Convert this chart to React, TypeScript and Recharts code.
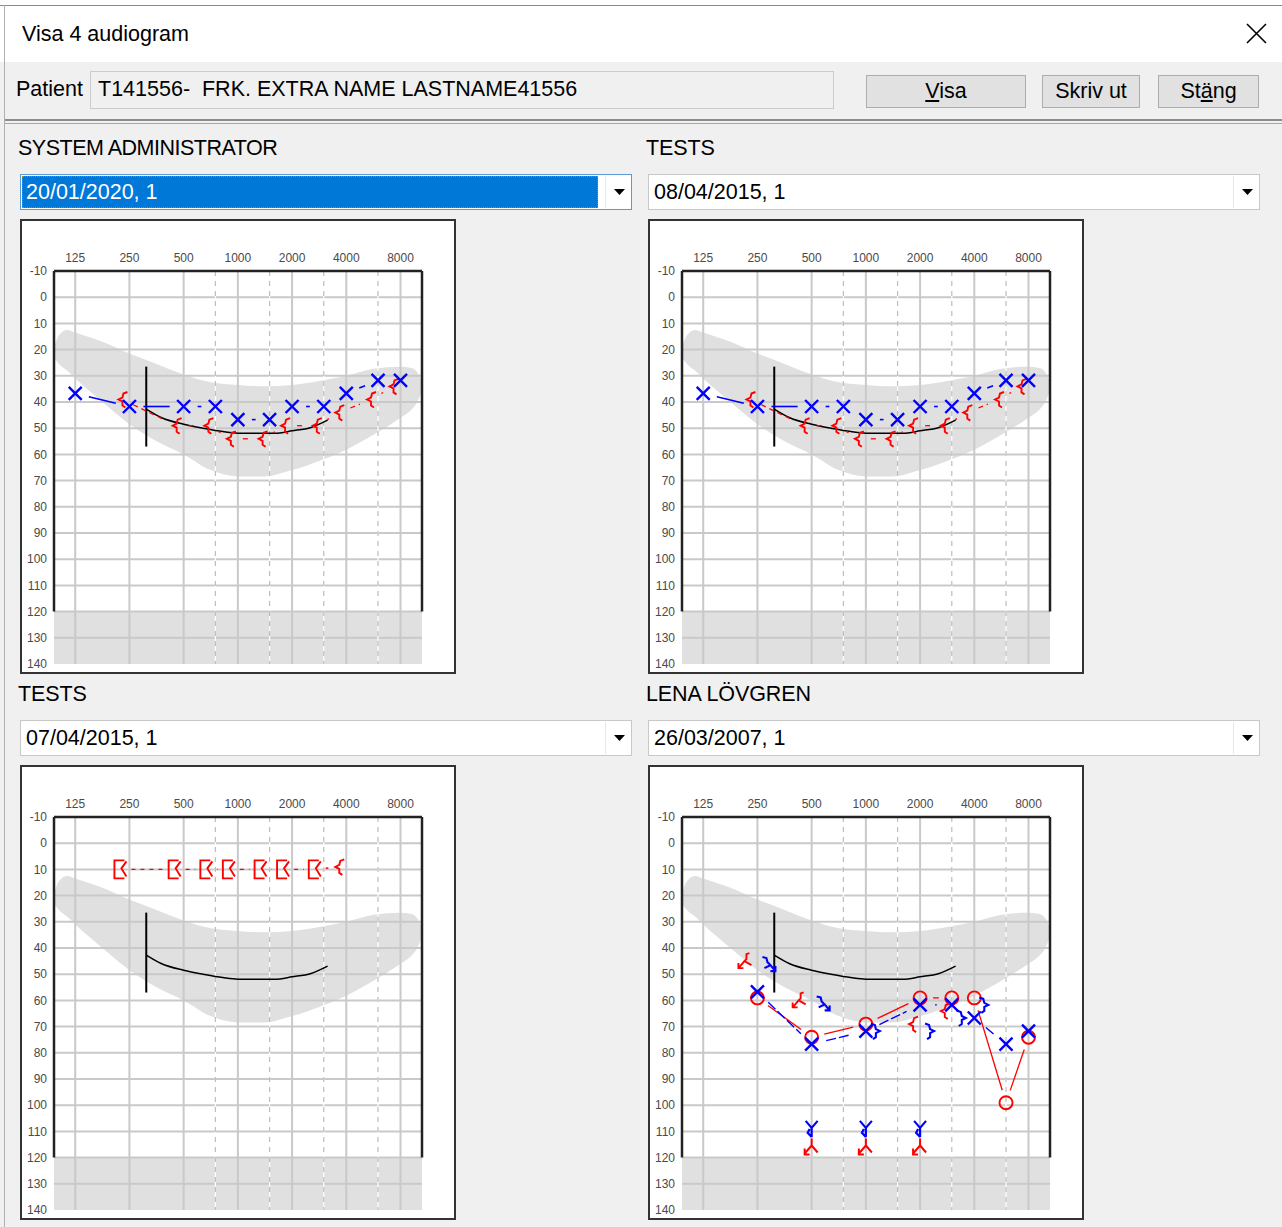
import React from 'react';
import { ComposedChart, Line, Area, XAxis, YAxis, ReferenceLine, ReferenceArea } from 'recharts';

const FONT = '"Liberation Sans", Arial, sans-serif';

// ---------- axes ----------
const FREQ_TICKS = [125, 250, 500, 1000, 2000, 4000, 8000];
const HALF_OCTAVE_FREQS = [750, 1500, 3000, 6000];
const DB_TICKS = [-10, 0, 10, 20, 30, 40, 50, 60, 70, 80, 90, 100, 110, 120, 130, 140];
const DB_GRID = [0, 10, 20, 30, 40, 50, 60, 70, 80, 90, 100, 110, 120, 130];
const FREQ_MIN = 95.3;
const FREQ_MAX = 10530;
const DB_MIN = -10;
const DB_MAX = 140;
const DB_FRAME_END = 120;

// ---------- speech banana ----------
const BANANA_FREQ = [95.3, 101.5, 112.6, 125, 177, 250, 354, 500, 707, 1000, 1414, 2000, 2828, 4000, 5657, 8000, 9190, 10000, 10500];
const BANANA_TOP = [19, 14.5, 12.5, 13.5, 17, 21.5, 25.5, 29.5, 32.5, 33.5, 34, 33.5, 32, 30, 27.3, 26.5, 27, 29, 32];
const BANANA_BOTTOM = [23, 25.5, 28, 31, 40, 48.5, 55, 60, 66, 68.4, 68.4, 66, 62.5, 58.2, 52.5, 46, 43, 39.5, 36];

// ---------- reference curve ----------
const CURVE_FREQ = [310, 375, 500, 650, 825, 1000, 1600, 2000, 2550, 3150];
const CURVE_DB = [42.7, 45.9, 48.5, 50.1, 51.3, 51.9, 51.9, 51, 49.7, 46.9];
const BAR_FREQ = [310, 310];
const BAR_DB = [26.5, 57];

// ---------- panel 1 : SYSTEM ADMINISTRATOR 20/01/2020 ----------
const P1_LEFT_AIR_FREQ = [125, 250, 500, 750, 1000, 1500, 2000, 3000, 4000, 6000, 8000];
const P1_LEFT_AIR_DB = [35, 40, 40, 40, 45, 45, 40, 40, 35, 30, 30];
const P1_RIGHT_BONE_FREQ = [250, 500, 750, 1000, 1500, 2000, 3000, 4000, 6000, 8000];
const P1_RIGHT_BONE_DB = [40, 50, 50, 55, 55, 50, 50, 45, 40, 35];

// ---------- panel 2 : TESTS 08/04/2015 ----------
const P2_LEFT_AIR_FREQ = [125, 250, 500, 750, 1000, 1500, 2000, 3000, 4000, 6000, 8000];
const P2_LEFT_AIR_DB = [35, 40, 40, 40, 45, 45, 40, 40, 35, 30, 30];
const P2_RIGHT_BONE_FREQ = [250, 500, 750, 1000, 1500, 2000, 3000, 4000, 6000, 8000];
const P2_RIGHT_BONE_DB = [40, 50, 50, 55, 55, 50, 50, 45, 40, 35];

// ---------- panel 3 : TESTS 07/04/2015 ----------
const P3_RIGHT_BONE_FREQ = [250, 500, 750, 1000, 1500, 2000, 3000, 4000];
const P3_RIGHT_BONE_DB = [10, 10, 10, 10, 10, 10, 10, 10];
const P3_RIGHT_BONE_MASKED = [true, true, true, true, true, true, true, false];

// ---------- panel 4 : LENA LÖVGREN 26/03/2007 ----------
const P4_RIGHT_AIR_FREQ = [250, 500, 1000, 2000, 3000, 4000, 6000, 8000];
const P4_RIGHT_AIR_DB = [60, 75, 70, 60, 60, 60, 100, 75];
const P4_LEFT_AIR_FREQ = [250, 500, 1000, 2000, 3000, 4000, 6000, 8000];
const P4_LEFT_AIR_DB = [55, 75, 70, 60, 60, 65, 75, 70];
const P4_RIGHT_BONE_FREQ = [2000, 3000];
const P4_RIGHT_BONE_DB = [70, 65];
const P4_RIGHT_BONE_NR_FREQ = [250, 500];
const P4_RIGHT_BONE_NR_DB = [45, 60];
const P4_LEFT_BONE_FREQ = [1000, 2000, 3000, 4000];
const P4_LEFT_BONE_DB = [70, 70, 65, 60];
const P4_LEFT_BONE_NR_FREQ = [250, 500];
const P4_LEFT_BONE_NR_DB = [45, 60];
const P4_LEFT_NR_FREQ = [500, 1000, 2000];
const P4_LEFT_NR_DB = [110, 110, 110];
const P4_RIGHT_NR_FREQ = [500, 1000, 2000];
const P4_RIGHT_NR_DB = [115, 115, 115];

const RED = '#ff0000';
const BLUE = '#0000ff';

const oct = (f: number) => Math.log2(f / 125);
const X_MIN = oct(FREQ_MIN);
const X_MAX = oct(FREQ_MAX);

type Kind = 'X' | 'O' | '<' | '>' | '<nr' | '>nr' | '[<' | 'Ynr' | 'Anr';

// glyph anchor offsets (like text glyph placement in the original program)
const OFFSETS: Record<Kind, [number, number]> = {
  X: [0, 4.5],
  O: [0, -2.5],
  '<': [-7, -2.5],
  '>': [10, 4.5],
  '<nr': [-12, 1],
  '>nr': [11, 4],
  '[<': [-9, 0],
  Ynr: [0, -2.5],
  Anr: [0, 3],
};

function Glyph({ kind, x, y, color }: { kind: Kind; x: number; y: number; color: string }) {
  const common = { fill: 'none', stroke: color, strokeLinejoin: 'miter' as const };
  switch (kind) {
    case 'X':
      return <path d={`M${x - 6.5},${y - 6.5}L${x + 6.5},${y + 6.5}M${x + 6.5},${y - 6.5}L${x - 6.5},${y + 6.5}`} {...common} strokeWidth={2.4} />;
    case 'O':
      return <circle cx={x} cy={y} r={6.5} {...common} strokeWidth={1.9} />;
    case '<':
      return <path d={`M${x + 5},${y - 7.5}L${x + 1},${y - 6}L${x},${y - 2}L${x - 4},${y}L${x},${y + 2}L${x},${y + 6}L${x + 3},${y + 8}`} {...common} strokeWidth={1.9} />;
    case '>':
      return <path d={`M${x - 5},${y - 7.5}L${x - 1},${y - 6}L${x},${y - 2}L${x + 4},${y}L${x},${y + 2}L${x},${y + 6}L${x - 3},${y + 8}`} {...common} strokeWidth={2.1} />;
    case '<nr':
      return (
        <path
          d={`M${x + 4},${y - 9}L${x + 1},${y - 8}L${x + 1},${y - 3}L${x - 1},${y - 1}L${x + 6},${y + 3}M${x - 1},${y - 1}L${x - 7},${y + 6}M${x - 7},${y + 1}L${x - 7},${y + 6}L${x - 2},${y + 6}`}
          {...common}
          strokeWidth={1.9}
        />
      );
    case '>nr':
      return (
        <path
          d={`M${x - 6},${y - 8}L${x - 2},${y - 7}L${x - 1},${y - 3}L${x + 2},${y}L${x - 4},${y + 3}M${x + 2},${y}L${x + 7},${y + 6}M${x + 7},${y + 1}L${x + 7},${y + 6}L${x + 2},${y + 6}`}
          {...common}
          strokeWidth={2.1}
        />
      );
    case '[<':
      return (
        <path
          d={`M${x + 4},${y - 9}L${x - 6},${y - 9}L${x - 6},${y + 9}L${x + 4},${y + 9}M${x + 6},${y - 8}L${x + 1},${y - 1}L${x + 6},${y + 7}`}
          {...common}
          strokeWidth={1.9}
        />
      );
    case 'Ynr':
      return (
        <path
          d={`M${x - 6},${y - 8}L${x},${y - 1}L${x + 6},${y - 8}M${x},${y - 1}L${x},${y + 8}M${x - 2},${y}L${x - 4},${y + 4}L${x},${y + 8}`}
          {...common}
          strokeWidth={2.2}
        />
      );
    case 'Anr':
      return (
        <path
          d={`M${x},${y - 9}L${x},${y - 2}M${x},${y - 2}L${x - 7},${y + 6}M${x},${y - 2}L${x + 6},${y + 5}M${x - 7},${y + 1}L${x - 7},${y + 7}L${x - 2},${y + 7}`}
          {...common}
          strokeWidth={2}
        />
      );
    default:
      return null;
  }
}

interface Series {
  freqs: number[];
  dbs: number[];
  kinds: Kind[];
  color: string;
  line?: { gap: number; width: number; dash?: string };
}

function makeDot(s: Series) {
  const cache: { x: number; y: number }[] = [];
  return (p: any) => {
    const { cx, cy, index } = p;
    cache[index] = { x: cx, y: cy };
    const kind = s.kinds[index];
    const [dx, dy] = OFFSETS[kind];
    const x = cx + dx;
    const y = cy + dy;
    let seg: React.ReactNode = null;
    if (s.line && index > 0) {
      const prev = (p.points && p.points[index - 1]) || cache[index - 1];
      if (prev) {
        const [pdx, pdy] = OFFSETS[s.kinds[index - 1]];
        const x0 = prev.x + pdx;
        const y0 = prev.y + pdy;
        const len = Math.hypot(x - x0, y - y0);
        const g = s.line.gap;
        if (len > 2 * g) {
          const ux = (x - x0) / len;
          const uy = (y - y0) / len;
          seg = (
            <line
              x1={x0 + ux * g}
              y1={y0 + uy * g}
              x2={x - ux * g}
              y2={y - uy * g}
              stroke={s.color}
              strokeWidth={s.line.width}
              strokeDasharray={s.line.dash}
            />
          );
        }
      }
    }
    return (
      <g key={`dot-${index}`}>
        {seg}
        <Glyph kind={kind} x={x} y={y} color={s.color} />
      </g>
    );
  };
}

const same = (n: number, k: Kind): Kind[] => Array.from({ length: n }, () => k);

const PANEL1: Series[] = [
  { freqs: P1_RIGHT_BONE_FREQ, dbs: P1_RIGHT_BONE_DB, kinds: same(P1_RIGHT_BONE_FREQ.length, '<'), color: RED, line: { gap: 12, width: 1.3, dash: '5 4' } },
  { freqs: P1_LEFT_AIR_FREQ, dbs: P1_LEFT_AIR_DB, kinds: same(P1_LEFT_AIR_FREQ.length, 'X'), color: BLUE, line: { gap: 14, width: 1.6 } },
];
const PANEL2: Series[] = [
  { freqs: P2_RIGHT_BONE_FREQ, dbs: P2_RIGHT_BONE_DB, kinds: same(P2_RIGHT_BONE_FREQ.length, '<'), color: RED, line: { gap: 12, width: 1.3, dash: '5 4' } },
  { freqs: P2_LEFT_AIR_FREQ, dbs: P2_LEFT_AIR_DB, kinds: same(P2_LEFT_AIR_FREQ.length, 'X'), color: BLUE, line: { gap: 14, width: 1.6 } },
];
const PANEL3: Series[] = [
  {
    freqs: P3_RIGHT_BONE_FREQ,
    dbs: P3_RIGHT_BONE_DB,
    kinds: P3_RIGHT_BONE_MASKED.map((m) => (m ? '[<' : '<') as Kind),
    color: RED,
    line: { gap: 11, width: 1.4, dash: '4 5' },
  },
];
const PANEL4: Series[] = [
  { freqs: P4_RIGHT_AIR_FREQ, dbs: P4_RIGHT_AIR_DB, kinds: same(P4_RIGHT_AIR_FREQ.length, 'O'), color: RED, line: { gap: 13, width: 1.3 } },
  { freqs: P4_LEFT_AIR_FREQ, dbs: P4_LEFT_AIR_DB, kinds: same(P4_LEFT_AIR_FREQ.length, 'X'), color: BLUE, line: { gap: 15, width: 1.4, dash: '10 3' } },
  { freqs: P4_RIGHT_BONE_NR_FREQ, dbs: P4_RIGHT_BONE_NR_DB, kinds: same(2, '<nr'), color: RED },
  { freqs: P4_RIGHT_BONE_FREQ, dbs: P4_RIGHT_BONE_DB, kinds: same(2, '<'), color: RED },
  { freqs: P4_LEFT_BONE_NR_FREQ, dbs: P4_LEFT_BONE_NR_DB, kinds: same(2, '>nr'), color: BLUE },
  { freqs: P4_LEFT_BONE_FREQ, dbs: P4_LEFT_BONE_DB, kinds: same(P4_LEFT_BONE_FREQ.length, '>'), color: BLUE },
  { freqs: P4_LEFT_NR_FREQ, dbs: P4_LEFT_NR_DB, kinds: same(3, 'Ynr'), color: BLUE },
  { freqs: P4_RIGHT_NR_FREQ, dbs: P4_RIGHT_NR_DB, kinds: same(3, 'Anr'), color: RED },
];

const bananaData = BANANA_FREQ.map((f, i) => ({ x: oct(f), band: [BANANA_TOP[i], BANANA_BOTTOM[i]] }));
const curveData = CURVE_FREQ.map((f, i) => ({ x: oct(f), y: CURVE_DB[i] }));
const barData = BAR_FREQ.map((f, i) => ({ x: oct(f), y: BAR_DB[i] }));

const tickStyle = { fontSize: 12, fill: '#4a4a4a', fontFamily: FONT };

function Audiogram({ series }: { series: Series[] }) {
  return (
    <ComposedChart width={436} height={455} margin={{ top: 32, right: 4, bottom: 10, left: 4 }} style={{ fontFamily: FONT }}>
      <XAxis
        type="number"
        dataKey="x"
        orientation="top"
        domain={[X_MIN, X_MAX]}
        ticks={FREQ_TICKS.map(oct)}
        interval={0}
        tickFormatter={(v: number) => String(Math.round(125 * Math.pow(2, v)))}
        axisLine={false}
        tickLine={false}
        tickSize={0}
        tickMargin={9}
        height={20}
        tick={tickStyle}
      />
      <YAxis type="number" domain={[DB_MIN, DB_MAX]} reversed ticks={DB_TICKS} interval={0} axisLine={false} tickLine={false} tickSize={0} tickMargin={7} width={30} tick={tickStyle} />
      <YAxis yAxisId="r" orientation="right" type="number" domain={[DB_MIN, DB_MAX]} reversed ticks={DB_TICKS} interval={0} axisLine={false} tickLine={false} tickSize={0} tickMargin={5} width={30} tick={{ ...tickStyle, textAnchor: 'start' }} />

      <ReferenceArea x1={X_MIN} x2={X_MAX} y1={DB_FRAME_END} y2={DB_MAX} fill="#e0e0e0" fillOpacity={1} stroke="none" zIndex={100} />
      <Area data={bananaData} dataKey="band" type="monotone" stroke="none" fill="#e0e0e0" fillOpacity={1} isAnimationActive={false} activeDot={false} legendType="none" zIndex={110} />

      {DB_GRID.map((d) => (
        <ReferenceLine key={`h${d}`} y={d} stroke="#c9c9c9" strokeWidth={2} zIndex={120} />
      ))}
      {FREQ_TICKS.map((f) => (
        <ReferenceLine key={`v${f}`} x={oct(f)} stroke="#c9c9c9" strokeWidth={2} zIndex={120} />
      ))}
      {HALF_OCTAVE_FREQS.map((f) => (
        <ReferenceLine key={`w${f}`} x={oct(f)} stroke="#ffffff" strokeWidth={1.2} zIndex={125} />
      ))}
      {HALF_OCTAVE_FREQS.map((f) => (
        <ReferenceLine key={`d${f}`} x={oct(f)} stroke="#bdbdbd" strokeWidth={1.2} strokeDasharray="5 5" zIndex={126} />
      ))}

      <ReferenceLine segment={[{ x: X_MIN, y: DB_MIN }, { x: X_MAX, y: DB_MIN }]} stroke="#222" strokeWidth={2.5} zIndex={140} />
      <ReferenceLine segment={[{ x: X_MIN, y: DB_MIN }, { x: X_MIN, y: DB_FRAME_END }]} stroke="#222" strokeWidth={2.5} zIndex={140} />
      <ReferenceLine segment={[{ x: X_MAX, y: DB_MIN }, { x: X_MAX, y: DB_FRAME_END }]} stroke="#222" strokeWidth={2.5} zIndex={140} />

      <Line data={barData} dataKey="y" type="linear" stroke="#000" strokeWidth={2} dot={false} activeDot={false} isAnimationActive={false} legendType="none" zIndex={150} />
      <Line data={curveData} dataKey="y" type="monotone" stroke="#000" strokeWidth={1.5} dot={false} activeDot={false} isAnimationActive={false} legendType="none" zIndex={150} />

      {series.map((s, i) => (
        <Line
          key={`s${i}`}
          data={s.freqs.map((f, j) => ({ x: oct(f), y: s.dbs[j] }))}
          dataKey="y"
          type="linear"
          stroke="none"
          strokeWidth={0}
          dot={makeDot(s)}
          activeDot={false}
          isAnimationActive={false}
          legendType="none"
          zIndex={160 + i}
        />
      ))}
    </ComposedChart>
  );
}

const UI_SIZE = 21.5;

function Txt({ x, y, children, size = UI_SIZE, color = '#000', spacing = 0 }: any) {
  return (
    <div
      style={{
        position: 'absolute',
        left: x,
        top: y - 12,
        lineHeight: '24px',
        fontSize: size,
        color,
        whiteSpace: 'pre',
        letterSpacing: spacing,
        fontFamily: FONT,
      }}
    >
      {children}
    </div>
  );
}

function Button({ x, w, children }: any) {
  return (
    <div
      style={{
        position: 'absolute',
        left: x,
        top: 75,
        width: w,
        height: 33,
        boxSizing: 'border-box',
        border: '1px solid #adadad',
        background: '#e1e1e1',
        fontFamily: FONT,
        fontSize: UI_SIZE,
        lineHeight: '31px',
        textAlign: 'center',
        color: '#000',
        whiteSpace: 'pre',
      }}
    >
      {children}
    </div>
  );
}

function Dropdown({ x, y, w, text, focused }: any) {
  return (
    <div
      style={{
        position: 'absolute',
        left: x,
        top: y,
        width: w,
        height: 36,
        boxSizing: 'border-box',
        border: `1px solid ${focused ? '#5a9bd5' : '#c8c8c8'}`,
        background: '#fff',
      }}
    >
      {focused && (
        <div
          style={{
            position: 'absolute',
            left: 1,
            top: 1,
            width: w - 36,
            height: 32,
            boxSizing: 'border-box',
            background: '#0078d7',
            border: '1px dotted #c08000',
          }}
        />
      )}
      <div
        style={{
          position: 'absolute',
          left: 5,
          top: 5,
          lineHeight: '24px',
          fontSize: UI_SIZE,
          fontFamily: FONT,
          color: focused ? '#fff' : '#000',
          whiteSpace: 'pre',
        }}
      >
        {text}
      </div>
      <div style={{ position: 'absolute', left: w - 28, top: 1, width: 1, height: 32, background: '#e6e6e6' }} />
      <svg style={{ position: 'absolute', left: w - 19, top: 14 }} width={12} height={8}>
        <path d="M0,0 L11,0 L5.5,6 Z" fill="#000" />
      </svg>
    </div>
  );
}

function Panel({ x, y, title, date, focused, series }: any) {
  return (
    <>
      <Txt x={x - 2} y={y - 71} spacing={title === 'SYSTEM ADMINISTRATOR' ? -0.5 : -0.1}>
        {title}
      </Txt>
      <Dropdown x={x} y={y - 45} w={612} text={date} focused={focused} />
      <div style={{ position: 'absolute', left: x, top: y, width: 436, height: 455, background: '#fff' }}>
        <Audiogram series={series} />
        <div style={{ position: 'absolute', left: 0, top: 0, width: 436, height: 455, boxSizing: 'border-box', border: '2px solid #333', pointerEvents: 'none' }} />
      </div>
    </>
  );
}

export default function App() {
  return (
    <div style={{ position: 'absolute', left: 0, top: 0, width: 1282, height: 1227, background: '#f0f0f0', overflow: 'hidden', fontFamily: FONT }}>
      {/* title bar */}
      <div style={{ position: 'absolute', left: 0, top: 0, width: 1282, height: 62, background: '#fff' }} />
      <div style={{ position: 'absolute', left: 0, top: 5, width: 1282, height: 1, background: '#8a8a8a' }} />
      <div style={{ position: 'absolute', left: 4, top: 5, width: 1, height: 1222, background: '#b0b0b0' }} />
      <Txt x={22} y={34}>Visa 4 audiogram</Txt>
      <svg style={{ position: 'absolute', left: 1246, top: 23 }} width={21} height={21}>
        <path d="M1,1 L20,20 M20,1 L1,20" stroke="#000" strokeWidth={1.6} />
      </svg>

      {/* patient row */}
      <Txt x={16} y={89}>Patient</Txt>
      <div style={{ position: 'absolute', left: 90, top: 71, width: 744, height: 38, boxSizing: 'border-box', border: '1px solid #cccccc', background: '#f0f0f0' }} />
      <Txt x={98} y={89}>{'T141556-  FRK. EXTRA NAME LASTNAME41556'}</Txt>
      <Button x={866} w={160}>
        <span style={{ textDecoration: 'underline' }}>V</span>isa
      </Button>
      <Button x={1042} w={98}>Skriv ut</Button>
      <Button x={1158} w={101}>
        St<span style={{ textDecoration: 'underline' }}>ä</span>ng
      </Button>

      {/* separator */}
      <div style={{ position: 'absolute', left: 5, top: 119, width: 1277, height: 2, background: '#8c8c8c' }} />
      <div style={{ position: 'absolute', left: 5, top: 123, width: 1277, height: 1, background: '#a8a8a8' }} />

      <Panel x={20} y={219} title="SYSTEM ADMINISTRATOR" date="20/01/2020, 1" focused series={PANEL1} />
      <Panel x={648} y={219} title="TESTS" date="08/04/2015, 1" series={PANEL2} />
      <Panel x={20} y={765} title="TESTS" date="07/04/2015, 1" series={PANEL3} />
      <Panel x={648} y={765} title="LENA LÖVGREN" date="26/03/2007, 1" series={PANEL4} />
    </div>
  );
}
